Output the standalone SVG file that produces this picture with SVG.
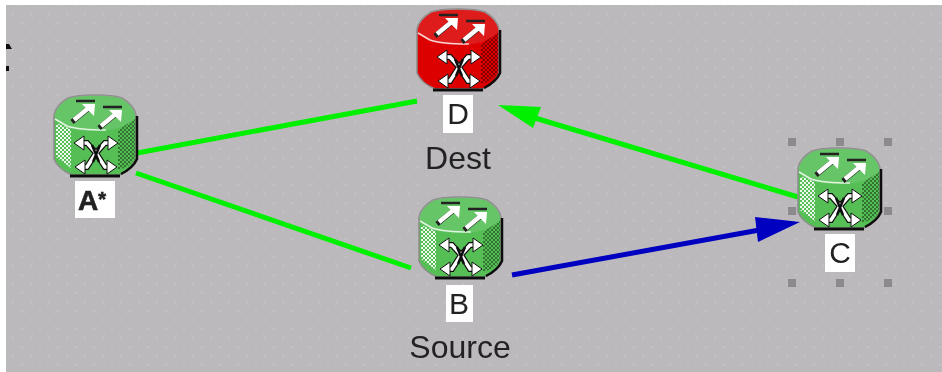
<svg xmlns="http://www.w3.org/2000/svg" width="942" height="372" viewBox="0 0 942 372">
<style>
.lbl{font-family:"Liberation Sans",Arial,sans-serif;fill:#222;text-anchor:middle}
.big{font-size:32px}
.box{fill:#fff}
.link{fill:none;stroke-width:5}
.green{stroke:#00f000}
.blue{stroke:#0000c0}
.h{fill:#8c8a8c}
.soft{filter:url(#soft)}
</style>
<defs>
<filter id="soft" x="-2%" y="-2%" width="104%" height="104%"><feGaussianBlur stdDeviation="0.6"/></filter>
<pattern id="bg" width="18" height="18" patternUnits="userSpaceOnUse">
<rect width="18" height="18" fill="#bcb9bd"/>
<rect x="3" y="4" width="2" height="2" fill="#c5c0c4"/>
<rect x="12" y="13" width="2" height="2" fill="#c5c0c4"/>
</pattern>
<pattern id="lt" width="4" height="4" patternUnits="userSpaceOnUse">
<rect x="0" y="0" width="2" height="2" fill="#fff" fill-opacity=".9"/>
<rect x="2" y="2" width="2" height="2" fill="#fff" fill-opacity=".9"/>
</pattern>
<pattern id="dk" width="4" height="4" patternUnits="userSpaceOnUse">
<rect x="0" y="0" width="2" height="2" fill="#000" fill-opacity=".4"/>
<rect x="2" y="2" width="2" height="2" fill="#000" fill-opacity=".4"/>
</pattern>
<path id="lit" d="M2,28 L17,34 V73 L2,62 Z" fill="url(#lt)"/>
<g id="icon">
<path d="M0,20 Q2,10 14,3 Q22,0 41,0 Q60,0 68,3 Q80,10 82,20 V64 Q78,74 66,80 H18 Q4,74 0,64 Z" fill="currentColor" stroke="#8c8c8c" stroke-width="1.5"/>
<path d="M0,20 Q2,10 14,3 Q22,0 41,0 Q60,0 68,3 Q80,10 82,20 Q82,26 65,33 Q55,36 41,36 Q20,36 8,30 Q1,26 0,20 Z" fill="#fff" fill-opacity=".1"/>
<path d="M64,35 L81,24 V64 Q76,72 64,75 Z" fill="url(#dk)"/>
<path d="M1,24 L13,31 Q25,35 52,35" fill="none" stroke="#fff" stroke-opacity=".8" stroke-width="1.6"/>
<path d="M83,21 V64 Q79,73 67,79" fill="none" stroke="#111" stroke-width="2.5"/>
<path d="M16,81 H66" fill="none" stroke="#111" stroke-width="3"/>
<path d="M18,27 L35,13 M45,33 L62,19" fill="none" stroke="#222" stroke-width="5"/>
<path d="M20,25 L37,11 M47,31 L64,17" fill="none" stroke="#fff" stroke-width="4.5"/>
<path d="M41,9 L28,9 L40,21 Z M68,15 L55,15 L67,27 Z" fill="#fff"/>
<path d="M22,6 H41 M49,12 H68" fill="none" stroke="#222" stroke-width="2.5"/>
<path d="M24,48 H33 L42,58 L51,48 H60 M24,72 H33 L42,58 L51,72 H60" fill="none" stroke="#111" stroke-width="6"/>
<path d="M24,48 H33 L42,58 L51,48 H60 M24,72 H33 L42,58 L51,72 H60" fill="none" stroke="#fff" stroke-width="3.5"/>
<path d="M20,48 L30,41 V55 Z M64,48 L54,41 V55 Z M21,72 L31,65 V79 Z M63,72 L53,65 V79 Z" fill="#fff" stroke="#111" stroke-width="1"/>
<path d="M38,50 L45,67 M46,50 L39,67" fill="none" stroke="#111" stroke-width="2.5"/>
</g>
</defs>
<rect width="942" height="372" fill="#fff"/>
<rect x="6" y="5" width="936" height="367" fill="url(#bg)"/>
<path class="soft" d="M6,44 h3 l3,5 h-6 Z M6,66 h3 v5 h-3 Z" fill="#111"/>
<g id="connectors" class="soft">
<path class="link green" d="M137,153 L417,101"/>
<path class="link green" d="M136,173 L411,268"/>
<path class="link green" d="M798,197 L525,115"/>
<path fill="#00f000" d="M498,105 L541,107 L533,128 Z"/>
<path class="link blue" d="M512,275 L765,229"/>
<path fill="#0000c0" d="M800,222 L755,217 L758,242 Z"/>
</g>
<g id="node-a" color="#55bf55" class="soft">
<use href="#icon" x="54" y="95"/>
<use href="#lit" x="54" y="95"/>
<rect class="box" x="75" y="181" width="40" height="37"/>
<text class="lbl" x="92" y="210" font-size="28" font-weight="700" stroke="#222" stroke-width=".6">A<tspan font-size="20" dy="-4">*</tspan></text>
</g>
<g id="node-d" color="#dc0000" class="soft">
<use href="#icon" x="417" y="9"/>
<rect class="box" x="443" y="95" width="30" height="38"/>
<text class="lbl" font-size="30" x="458" y="124">D</text>
<text class="lbl big" x="458" y="169">Dest</text>
</g>
<g id="node-b" color="#55bf55" class="soft">
<use href="#icon" x="419" y="197"/>
<use href="#lit" x="419" y="197"/>
<rect class="box" x="446" y="285" width="27" height="37"/>
<text class="lbl" font-size="30" x="459" y="314">B</text>
<text class="lbl big" x="460" y="358">Source</text>
</g>
<g id="node-c" color="#55bf55" class="soft">
<use href="#icon" x="798" y="148"/>
<use href="#lit" x="798" y="148"/>
<rect class="box" x="825" y="234" width="30" height="38"/>
<text class="lbl" font-size="30" x="840" y="263">C</text>
<rect class="h" x="788" y="138" width="8" height="8"/>
<rect class="h" x="836" y="138" width="8" height="8"/>
<rect class="h" x="884" y="138" width="8" height="8"/>
<rect class="h" x="788" y="207" width="8" height="8"/>
<rect class="h" x="884" y="207" width="8" height="8"/>
<rect class="h" x="788" y="279" width="8" height="8"/>
<rect class="h" x="836" y="279" width="8" height="8"/>
<rect class="h" x="884" y="279" width="8" height="8"/>
</g>
</svg>
